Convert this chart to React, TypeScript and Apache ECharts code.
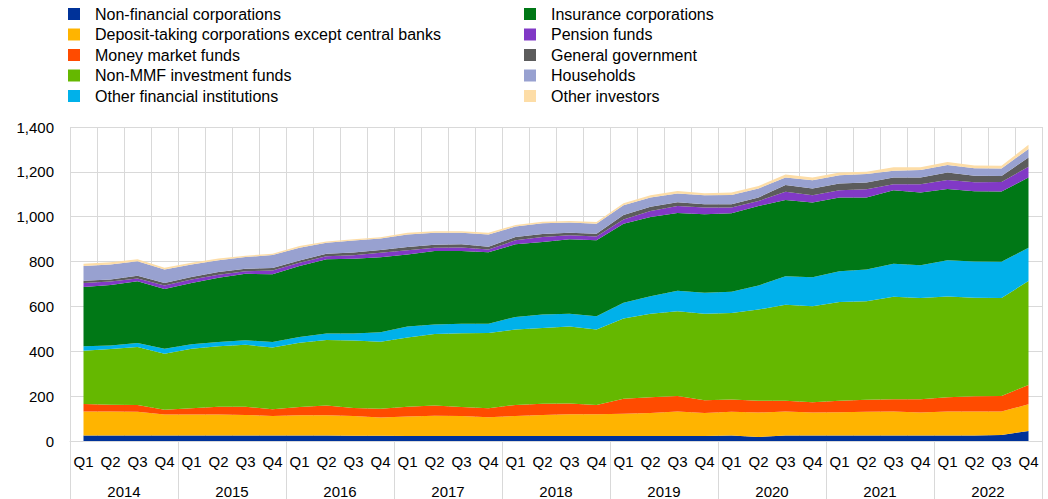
import React, { useEffect, useRef } from "react";
import * as echarts from "echarts";

const years = ["2014", "2015", "2016", "2017", "2018", "2019", "2020", "2021", "2022"];
const quarterLabels = ["Q1", "Q2", "Q3", "Q4"];
const categories = years.flatMap(() => quarterLabels);
const yTicks = { min: 0, max: 1400, interval: 200 };

const seriesNames = [
  "Non-financial corporations",
  "Deposit-taking corporations except central banks",
  "Money market funds",
  "Non-MMF investment funds",
  "Other financial institutions",
  "Insurance corporations",
  "Pension funds",
  "General government",
  "Households",
  "Other investors",
];

const colors = [
  "#003299", "#FFB400", "#FF4B00", "#65B800", "#00B1EA",
  "#007816", "#8139C6", "#5C5C5C", "#98A1D0", "#FDDDA7",
];

const nonFinancial = [25, 25, 25, 25, 25, 25, 24, 24, 24, 24, 23, 23, 22, 22, 22, 22, 22, 22, 22, 22, 22, 22, 22, 22, 24, 18, 24, 24, 24, 24, 24, 24, 25, 25, 27, 45];
const depositTaking = [106, 106, 105, 93, 93, 93, 92, 88, 91, 91, 88, 82, 87, 91, 89, 84, 90, 94, 97, 97, 100, 103, 109, 103, 106, 109, 107, 103, 104, 106, 107, 103, 107, 107, 104, 119];
const moneyMarket = [34, 31, 30, 21, 28, 35, 37, 30, 37, 43, 36, 39, 44, 45, 41, 40, 49, 50, 48, 42, 66, 70, 70, 57, 55, 53, 49, 46, 52, 54, 55, 59, 63, 67, 70, 86];
const nonMMF = [237, 248, 259, 250, 265, 269, 276, 275, 286, 292, 301, 299, 309, 319, 328, 336, 336, 338, 344, 336, 358, 372, 377, 385, 386, 406, 427, 428, 440, 439, 457, 452, 449, 440, 437, 463];
const otherFinancial = [21, 16, 18, 22, 20, 19, 20, 24, 26, 29, 31, 42, 49, 42, 43, 41, 56, 60, 56, 59, 70, 78, 92, 94, 94, 107, 128, 129, 137, 142, 147, 146, 162, 161, 161, 149];
const insurance = [264, 269, 275, 267, 274, 287, 297, 302, 316, 331, 334, 334, 321, 328, 324, 319, 324, 323, 332, 339, 353, 354, 347, 350, 350, 355, 340, 333, 329, 321, 328, 324, 318, 313, 313, 313];
const pension = [18, 16, 13, 15, 15, 13, 11, 17, 15, 14, 15, 20, 18, 15, 16, 12, 18, 22, 18, 17, 19, 27, 31, 30, 26, 22, 36, 33, 32, 37, 27, 37, 40, 41, 43, 48];
const generalGov = [9, 9, 12, 12, 11, 12, 11, 11, 10, 11, 12, 13, 15, 13, 14, 12, 14, 14, 12, 12, 20, 18, 17, 15, 15, 16, 30, 30, 30, 30, 30, 30, 33, 29, 27, 41];
const households = [66, 67, 64, 60, 56, 53, 52, 58, 57, 49, 54, 51, 56, 54, 52, 55, 47, 48, 45, 45, 43, 42, 38, 40, 41, 40, 34, 37, 37, 37, 30, 33, 34, 33, 33, 38];
const otherInvestors = [10, 10, 9, 7, 8, 8, 6, 6, 7, 6, 5, 5, 8, 6, 6, 8, 7, 7, 7, 7, 9, 10, 12, 9, 11, 11, 13, 12, 12, 10, 15, 12, 13, 12, 12, 19];

const seriesData = [
  nonFinancial, depositTaking, moneyMarket, nonMMF, otherFinancial,
  insurance, pension, generalGov, households, otherInvestors,
];

const FONT = "'Liberation Sans', Arial, sans-serif";

export default function App() {
  const ref = useRef<HTMLDivElement>(null);

  useEffect(() => {
    if (!ref.current) return;
    const chart = echarts.init(ref.current, null, { renderer: "svg" });
    const legendBase = {
      orient: "vertical" as const,
      top: 6,
      padding: 0,
      icon: "rect",
      itemWidth: 12,
      itemHeight: 12,
      itemGap: 4.5,
      selectedMode: false,
      textStyle: {
        fontSize: 16,
        lineHeight: 16,
        color: "#000",
        fontFamily: FONT,
        padding: [0, 0, 0, 10],
      },
    };
    chart.setOption({
      animation: false,
      color: colors,
      textStyle: { fontFamily: FONT },
      legend: [
        { ...legendBase, left: 68, data: seriesNames.slice(0, 5) },
        { ...legendBase, left: 524, data: seriesNames.slice(5) },
      ],
      grid: { left: 70, top: 127, width: 972, height: 314, containLabel: false },
      xAxis: [
        {
          type: "category",
          data: categories,
          boundaryGap: true,
          axisLine: { show: true, lineStyle: { color: "#d9d9d9" } },
          axisTick: { show: false },
          splitLine: { show: true, interval: 0, lineStyle: { color: "#d9d9d9", width: 1 } },
          axisLabel: { interval: 0, fontSize: 15, color: "#000", margin: 13, fontFamily: FONT },
        },
        {
          type: "category",
          data: years,
          position: "bottom",
          offset: 0,
          boundaryGap: true,
          axisLine: { show: false },
          axisTick: { show: true, length: 60, interval: 0, lineStyle: { color: "#d9d9d9" } },
          splitLine: { show: false },
          axisLabel: { interval: 0, fontSize: 15, color: "#000", margin: 43, fontFamily: FONT },
        },
      ],
      yAxis: {
        type: "value",
        min: yTicks.min,
        max: yTicks.max,
        interval: yTicks.interval,
        axisLine: { show: false },
        axisTick: { show: false },
        splitLine: { show: true, lineStyle: { color: "#d9d9d9", width: 1 } },
        axisLabel: {
          fontSize: 15,
          color: "#000",
          margin: 16,
          fontFamily: FONT,
          formatter: (v: number) => v.toLocaleString("en-US"),
        },
      },
      series: seriesNames.map((name, i) => ({
        name,
        type: "line",
        stack: "total",
        data: seriesData[i],
        xAxisIndex: 0,
        showSymbol: false,
        symbol: "none",
        lineStyle: { width: 0 },
        areaStyle: { color: colors[i], opacity: 1 },
        itemStyle: { color: colors[i] },
      })),
    });
    return () => chart.dispose();
  }, []);

  return (
    <div
      ref={ref}
      style={{ position: "fixed", left: 0, top: 0, width: 1048, height: 499, background: "#fff" }}
    />
  );
}
